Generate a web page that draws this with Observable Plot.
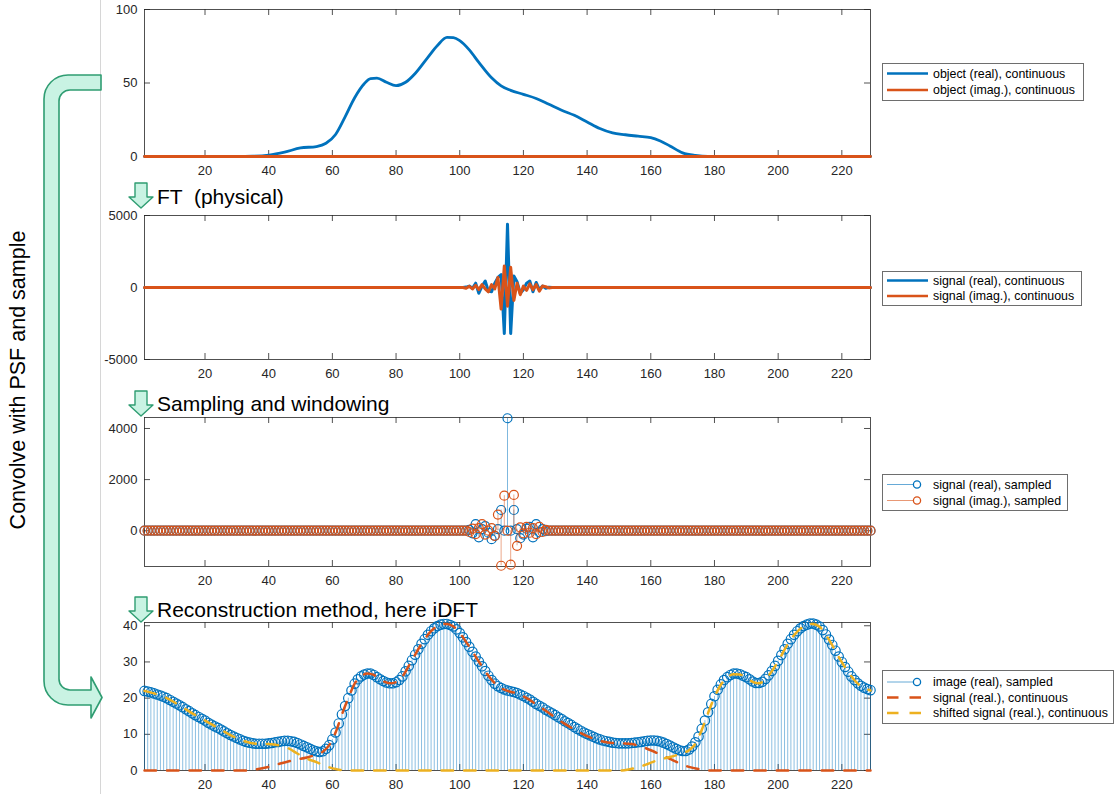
<!DOCTYPE html>
<html>
<head>
<meta charset="utf-8">
<script src="https://cdn.jsdelivr.net/npm/d3@7"></script>
<script src="https://cdn.jsdelivr.net/npm/@observablehq/plot@0.6"></script>
<style>
  html, body { margin: 0; padding: 0; background: #fff; }
  #fig { position: relative; width: 1115px; height: 794px; overflow: hidden;
         font-family: "Liberation Sans", Arial, Helvetica, sans-serif; }
  #fig > svg { position: absolute; left: 0; }
</style>
</head>
<body>
<div id="fig"></div>
<script>
// ---------- shared tick labels ----------
const xTicks = [20, 40, 60, 80, 100, 120, 140, 160, 180, 200, 220];

// ---------- panel 1: object, continuous ----------
const objX  = [1, 30, 35, 40, 45, 50, 55, 58, 61, 64, 67, 70, 72, 74, 77, 80, 83, 86, 90, 93,
               96, 98, 100, 103, 106, 110, 113, 116, 120, 124, 128, 132, 136, 140, 144, 148, 152, 156, 160, 163,
               166, 170, 174, 178, 229];
const objRe = [0, 0, 0.2, 1, 3, 5.8, 6.8, 9, 15, 27, 40, 49.5, 53, 53.3, 50.5, 48.2, 50.5, 56.5, 67.5, 75.5,
               81, 80.8, 78.8, 72.5, 64, 53.5, 48, 45, 42.3, 39.5, 35.5, 31.5, 28, 23.5, 19, 16, 14.8, 13.8, 12.8, 10.5,
               7.2, 2.5, 0.7, 0, 0];
const objImX = [1, 229];
const objIm  = [0, 0];
const p1Ticks = [0, 50, 100];

// ---------- panel 2: signal after FT, continuous ----------
const ftX  = [1, 101, 102, 103, 104, 105, 106, 107, 108, 109, 110, 111, 112, 113, 114, 115, 116, 117, 118, 119,
              120, 121, 122, 123, 124, 125, 126, 127, 128, 129, 229];
const ftRe = [0, 0, 30, 100, -50, 300, -400, 100, 450, -250, -300, 300, 700, 900, -3200, 4400, -3200, 800, 400, -400,
              -150, 300, 450, -300, 350, -150, 100, -50, 20, 0, 0];
const ftIm = [0, 0, -50, 80, -100, 150, -150, 200, -100, -300, 200, -100, 700, -1500, 1500, -1300, 1400, -900, 300, -500,
              100, -200, 250, -150, 200, -250, 100, 50, -30, 0, 0];
const p2Ticks = [-5000, 0, 5000];

// ---------- panel 3: sampled signal (samples 1..229; all others read as 0) ----------
const sampleCount = 229;
const sampIdx = [103, 104, 105, 106, 107, 108, 109, 110, 111, 112, 113, 114, 115, 116, 117, 118, 119, 120, 121, 122,
                 123, 124, 125, 126, 127];
const sampRe  = [30, -100, 260, -260, 60, 180, -80, -330, -200, 60, 810, 0, 4400, 0, 810, 60, -290, -150, 80, 150,
                 -260, 260, -60, 60, -20];
const sampIm  = [-50, 80, -130, 100, 260, -150, 0, 100, -200, 630, -1370, 1370, 0, -1330, 1400, -590, 130, -100, 150, -80,
                 100, -130, 150, -50, 30];
const p3Ticks = [0, 2000, 4000];

// ---------- panel 4: reconstructed image (samples 1..229) ----------
const imageRe = [
  22.0, 21.8, 21.6, 21.3, 21.0, 20.7, 20.4, 20.0, 19.5, 19.0,
  18.5, 18.0, 17.5, 16.9, 16.4, 15.8, 15.3, 14.8, 14.3, 13.8,
  13.2, 12.7, 12.2, 11.8, 11.3, 10.8, 10.3, 9.8, 9.4, 9.0,
  8.6, 8.2, 7.9, 7.7, 7.5, 7.4, 7.4, 7.4, 7.4, 7.5,
  7.6, 7.8, 7.9, 8.1, 8.2, 8.2, 8.1, 7.9, 7.6, 7.2,
  6.8, 6.4, 6.0, 5.6, 5.3, 5.1, 5.3, 6.0, 7.0, 8.6,
  10.5, 13.0, 15.5, 17.8, 20.0, 22.1, 24.0, 25.2, 26.0, 26.5,
  26.8, 26.8, 26.4, 25.8, 25.2, 24.7, 24.3, 24.1, 24.1, 24.4,
  25.0, 26.0, 27.4, 28.9, 30.5, 32.0, 33.5, 35.0, 36.3, 37.5,
  38.5, 39.3, 39.9, 40.3, 40.5, 40.5, 40.2, 39.8, 39.0, 38.0,
  36.8, 35.5, 34.2, 32.8, 31.5, 30.1, 28.8, 27.5, 26.2, 25.0,
  24.0, 23.3, 22.8, 22.4, 22.1,
  21.9, 21.7, 21.4, 21.0, 20.6, 20.1, 19.6, 19.0, 18.4, 17.9,
  17.4, 16.8, 16.3, 15.8, 15.3, 14.7, 14.2, 13.6, 13.1, 12.6,
  12.0, 11.5, 11.0, 10.5, 10.1, 9.7, 9.3, 8.9, 8.6, 8.3,
  8.1, 7.9, 7.7, 7.6, 7.5, 7.5, 7.5, 7.5, 7.6, 7.7,
  7.8, 7.9, 8.1, 8.2, 8.3, 8.3, 8.2, 8.0, 7.7, 7.3,
  6.9, 6.4, 6.0, 5.6, 5.4, 5.4, 5.8, 6.6, 7.8, 9.4,
  11.5, 13.8, 16.1, 18.4, 20.5, 22.3, 23.8, 25.0, 25.8, 26.4,
  26.8, 26.8, 26.6, 26.2, 25.8, 25.2, 24.6, 24.2, 24.2, 24.5,
  25.3, 26.3, 27.5, 28.9, 30.3, 31.9, 33.5, 35.0, 36.3, 37.5,
  38.5, 39.3, 39.9, 40.3, 40.6, 40.6, 40.3, 39.8, 38.8, 37.6,
  36.2, 34.7, 33.1, 31.5, 30.0, 28.6, 27.3, 26.0, 25.0, 24.1,
  23.4, 22.9, 22.5, 22.2
];
const sigX  = [1, 33, 36, 40, 44, 48, 52, 55, 57, 59, 61, 63, 65, 67, 69, 71, 73, 75, 78, 80,
               82, 85, 88, 91, 94, 96, 98, 100, 103, 106, 109, 112, 115, 118, 121, 124, 127, 130, 133, 136,
               139, 142, 145, 148, 151, 154, 157, 160, 163, 166, 169, 172, 175, 178, 229];
const sigRe = [0, 0, 0.3, 1.0, 2.0, 2.9, 3.6, 4.4, 5.2, 7.0, 10.5, 15.5, 20, 24, 26, 26.8, 26.4, 25.2, 24.1, 24.4,
               26, 30.5, 35, 38.5, 40.3, 40.5, 39.8, 38, 34.2, 30.1, 26.2, 23.3, 22.0, 21.3, 20.0, 18.3, 16.5, 14.6, 12.9, 11.3,
               9.9, 8.8, 8.0, 7.6, 7.5, 7.3, 6.6, 5.6, 4.4, 3.2, 2.0, 1.0, 0.4, 0, 0];
const shiftX  = [1, 4, 8, 12, 16, 20, 24, 28, 32, 36, 40, 43, 46, 49, 52, 55, 58, 61, 64, 150,
                 153, 156, 159, 162, 165, 168, 170, 172, 174, 176, 178, 180, 182, 184, 186, 188, 190, 192, 194, 196,
                 198, 200, 203, 206, 209, 211, 213, 216, 219, 222, 225, 229];
const shiftRe = [22, 21.3, 20, 18, 15.8, 13.8, 11.8, 9.8, 8.2, 7.4, 7.3, 7.0, 6.2, 4.7, 3.3, 2.3, 1.2, 0.4, 0, 0,
                 0.3, 0.9, 1.8, 2.8, 3.5, 4.2, 4.8, 5.6, 7.4, 11.2, 15.9, 20.3, 23.7, 25.7, 26.6, 26.5, 25.7, 24.5, 24.1, 25.2,
                 27.4, 30.2, 34.9, 38.4, 40.2, 40.5, 39.7, 36.1, 31.4, 27.2, 24.0, 22.1];
const p4Ticks = [0, 10, 20, 30, 40];

// ---------- styling ----------
const C = {blue: "#0072BD", orange: "#D95319", yellow: "#EDB120", ink: "#262626",
           mint: "#c9f3e3", green: "#2f9d72"};
const FONT = '"Liberation Sans", Arial, Helvetica, sans-serif';
const W = 1115, ML = 144, MR = 245, MT = 12, MB = 30, TICK = 6;
const fig = document.getElementById("fig");

const pts = (xs, vs) => xs.map((x, i) => ({x, v: vs[i]}));
const samples = (vals) => d3.range(1, sampleCount + 1).map(x => {
  const k = sampIdx.indexOf(x);
  return {x, v: k < 0 ? 0 : vals[k]};
});

function panel(top, bottom, yDomain, yTicks, dataMarks) {
  const innerH = bottom - top, innerW = W - ML - MR;
  const svg = Plot.plot({
    width: W, height: innerH + MT + MB,
    marginLeft: ML, marginRight: MR, marginTop: MT, marginBottom: MB,
    x: {domain: [1, 229], ticks: xTicks, tickSize: 0, tickPadding: 9, label: null},
    y: {domain: yDomain, ticks: yTicks, tickSize: 0, tickPadding: 7, label: null, tickFormat: d => String(d)},
    style: {background: "transparent", overflow: "visible", fontFamily: FONT, fontSize: "13px", color: C.ink},
    marks: [
      Plot.frame({stroke: C.ink, strokeWidth: 0.8}),
      Plot.tickX(xTicks, {x: d => d, stroke: C.ink, strokeWidth: 0.8, insetTop: innerH - TICK}),
      Plot.tickX(xTicks, {x: d => d, stroke: C.ink, strokeWidth: 0.8, insetBottom: innerH - TICK}),
      Plot.tickY(yTicks, {y: d => d, stroke: C.ink, strokeWidth: 0.8, insetRight: innerW - TICK}),
      Plot.tickY(yTicks, {y: d => d, stroke: C.ink, strokeWidth: 0.8, insetLeft: innerW - TICK}),
      ...dataMarks
    ]
  });
  svg.style.top = (top - MT) + "px";
  fig.appendChild(svg);
}

// Panel 1: object
panel(9, 156, [0, 100], p1Ticks, [
  Plot.line(pts(objX, objRe), {x: "x", y: "v", stroke: C.blue, strokeWidth: 2.8, curve: "monotone-x"}),
  Plot.line(pts(objImX, objIm), {x: "x", y: "v", stroke: C.orange, strokeWidth: 2.8})
]);

// Panel 2: FT of the object
panel(215, 359, [-5000, 5000], p2Ticks, [
  Plot.line(pts(ftX, ftRe), {x: "x", y: "v", stroke: C.blue, strokeWidth: 3}),
  Plot.line(pts(ftX, ftIm), {x: "x", y: "v", stroke: C.orange, strokeWidth: 3})
]);

// Panel 3: sampled and windowed signal
const sRe = samples(sampRe), sIm = samples(sampIm);
panel(417, 566, [-1400, 4430], p3Ticks, [
  Plot.ruleX(sRe, {x: "x", y1: 0, y2: "v", stroke: C.blue, strokeOpacity: 0.5, strokeWidth: 1}),
  Plot.dot(sRe, {x: "x", y: "v", r: 4.5, stroke: C.blue, strokeWidth: 1.2, fill: "none"}),
  Plot.ruleX(sIm, {x: "x", y1: 0, y2: "v", stroke: C.orange, strokeOpacity: 0.5, strokeWidth: 1}),
  Plot.dot(sIm, {x: "x", y: "v", r: 4.5, stroke: C.orange, strokeWidth: 1.2, fill: "none"})
]);

// Panel 4: reconstruction
const img = imageRe.map((v, i) => ({x: i + 1, v}));
panel(622, 770, [0, 40.9], p4Ticks, [
  Plot.ruleX(img, {x: "x", y1: 0, y2: "v", stroke: C.blue, strokeOpacity: 0.5, strokeWidth: 0.9}),
  Plot.dot(img, {x: "x", y: "v", r: 4.7, stroke: C.blue, strokeWidth: 1.2, fill: "none"}),
  Plot.line(pts(sigX, sigRe), {x: "x", y: "v", stroke: C.orange, strokeWidth: 2.5,
    strokeDasharray: "11.5 11", curve: "monotone-x"}),
  Plot.line(pts(shiftX, shiftRe), {x: "x", y: "v", stroke: C.yellow, strokeWidth: 2.5,
    strokeDasharray: "11.5 11", curve: "monotone-x"})
]);

// ---------- annotations: step titles, arrows, legends ----------
const ov = d3.create("svg").attr("width", W).attr("height", 794)
  .style("top", "0px").style("font-family", FONT);

ov.append("line").attr("x1", 100.5).attr("x2", 100.5).attr("y1", 0).attr("y2", 794)
  .attr("stroke", "#d6d6d6").attr("stroke-width", 1);

// big bracket arrow on the left
ov.append("path")
  .attr("d", "M101,75 L68,75 A24,24 0 0 0 44,99 L44,681 A24,24 0 0 0 68,705 L91,705 L91,718 L102,697.5 " +
             "L91,677 L91,690 L70,690 A11,11 0 0 1 59,679 L59,101 A11,11 0 0 1 70,90 L101,90 Z")
  .attr("fill", C.mint).attr("stroke", C.green).attr("stroke-width", 1.6).attr("stroke-linejoin", "round");

ov.append("text").attr("transform", "translate(18,380) rotate(-90)")
  .attr("text-anchor", "middle").attr("dominant-baseline", "central")
  .attr("font-size", 21.5).attr("fill", "#000").text("Convolve with PSF and sample");

// step titles with small down arrows
const steps = [
  {label: "FT  (physical)", top: 183, base: 203.5},
  {label: "Sampling and windowing", top: 391, base: 410.5},
  {label: "Reconstruction method, here iDFT", top: 597, base: 616.5}
];
for (const s of steps) {
  const t = s.top;
  ov.append("path")
    .attr("d", `M135,${t} L147,${t} L147,${t + 14} L153,${t + 14} L141,${t + 25} L129,${t + 14} L135,${t + 14} Z`)
    .attr("fill", C.mint).attr("stroke", C.green).attr("stroke-width", 1.4).attr("stroke-linejoin", "round");
  ov.append("text").attr("x", 157).attr("y", s.base).attr("font-size", 21).attr("fill", "#000")
    .style("white-space", "pre").text(s.label);
}

// legends
const legends = [
  {x: 882, y: 63, w: 201, h: 37, rows: [
    {label: "object (real), continuous", color: C.blue, kind: "line", y: 73.5},
    {label: "object (imag.), continuous", color: C.orange, kind: "line", y: 90}]},
  {x: 882, y: 271, w: 199, h: 34, rows: [
    {label: "signal (real), continuous", color: C.blue, kind: "line", y: 280.5},
    {label: "signal (imag.), continuous", color: C.orange, kind: "line", y: 296}]},
  {x: 882, y: 474, w: 185, h: 36, rows: [
    {label: "signal (real), sampled", color: C.blue, kind: "stem", y: 484.5},
    {label: "signal (imag.), sampled", color: C.orange, kind: "stem", y: 500.5}]},
  {x: 882, y: 670, w: 231, h: 53, rows: [
    {label: "image (real), sampled", color: C.blue, kind: "stem", y: 682},
    {label: "signal (real.), continuous", color: C.orange, kind: "dash", y: 697.5},
    {label: "shifted signal (real.), continuous", color: C.yellow, kind: "dash", y: 713}]}
];
for (const L of legends) {
  ov.append("rect").attr("x", L.x + 0.5).attr("y", L.y + 0.5).attr("width", L.w).attr("height", L.h)
    .attr("fill", "#fff").attr("stroke", "#6e6e6e").attr("stroke-width", 1);
  for (const r of L.rows) {
    if (r.kind === "line") {
      ov.append("line").attr("x1", 887).attr("x2", 928).attr("y1", r.y).attr("y2", r.y)
        .attr("stroke", r.color).attr("stroke-width", 2.6);
    } else if (r.kind === "stem") {
      ov.append("line").attr("x1", 887).attr("x2", 917).attr("y1", r.y).attr("y2", r.y)
        .attr("stroke", r.color).attr("stroke-opacity", 0.6).attr("stroke-width", 1);
      ov.append("circle").attr("cx", 917).attr("cy", r.y).attr("r", 3.6)
        .attr("fill", "#fff").attr("stroke", r.color).attr("stroke-width", 1.3);
    } else {
      ov.append("line").attr("x1", 887).attr("x2", 921).attr("y1", r.y).attr("y2", r.y)
        .attr("stroke", r.color).attr("stroke-width", 2.5).attr("stroke-dasharray", "11.5 11");
    }
    ov.append("text").attr("x", 933).attr("y", r.y).attr("dy", "0.35em")
      .attr("font-size", 12.4).attr("fill", "#000").text(r.label);
  }
}
fig.appendChild(ov.node());
</script>
</body>
</html>
